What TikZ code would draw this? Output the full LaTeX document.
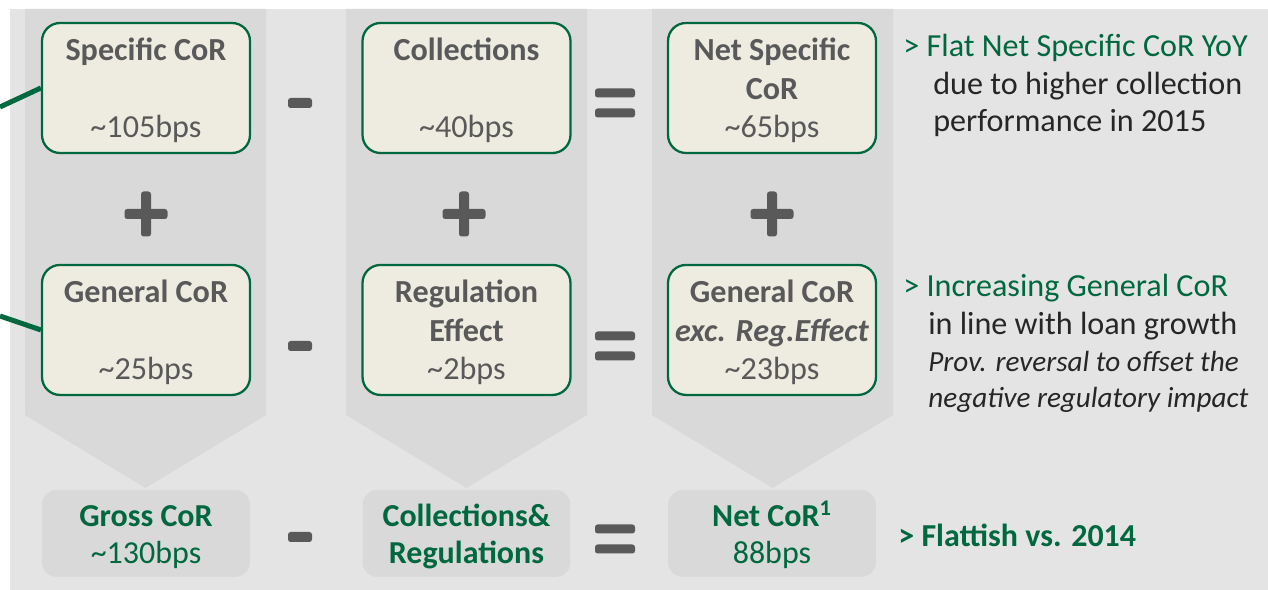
\documentclass[tikz,border=0pt]{standalone}
\usepackage{fontspec}
\setmainfont{Carlito}
\usepackage{tikz}
\usetikzlibrary{positioning}
\definecolor{corgreen}{RGB}{0,104,62}
\definecolor{boxtan}{RGB}{238,236,225}
\definecolor{colgray}{RGB}{217,217,217}
\definecolor{panelgray}{RGB}{228,228,228}
\definecolor{txtgray}{RGB}{89,89,89}
\definecolor{txtdark}{RGB}{38,38,38}
% first line of a box gets a fixed height, so all boxes sit the same way
\newcommand{\boxtitle}[1]{\rule{0pt}{15.6pt}\textbf{#1}}
\newcommand{\totaltitle}[1]{\rule{0pt}{16.2pt}\textbf{#1}}
\tikzstyle{corbox} = [rectangle, rounded corners=0.36cm,
minimum width=4.16cm,
minimum height=2.6cm,
inner sep=0pt,
align=center,
draw=corgreen, line width=1.3pt,
fill=boxtan,
text=txtgray,
font=\fontsize{18.3}{21.9}\selectfont]
\tikzstyle{totalbox} = [rectangle, rounded corners=0.3cm,
minimum width=4.16cm,
minimum height=1.74cm,
inner sep=0pt,
align=center,
fill=colgray,
text=corgreen,
font=\fontsize{18.2}{21}\selectfont]
\tikzstyle{note} = [anchor=north west, align=left, inner sep=0pt, text=txtdark,
font=\fontsize{18.3}{21.4}\selectfont]
\tikzstyle{opsign} = [fill=txtgray, rounded corners=1.5pt]
\tikzstyle{link} = [line width=0.1cm, draw=corgreen]

\begin{document}
\begin{tikzpicture}[x=0.02cm, y=-0.02cm, node distance=4.84cm]
        \useasboundingbox (0,0) rectangle (1268,590);
        \fill[panelgray] (10,9) rectangle (1268,590);
        % the three down-pointing columns
        \foreach \l/\r in {25/266, 346/587, 652/893}
            \fill[colgray] (\l,9) -- (\r,9) -- (\r,415) -- ({(\l+\r)/2},488) -- (\l,415) -- cycle;

        \node (spec) [corbox] at (146,88) {\boxtitle{Specific CoR}\\ \mbox{}\\ \textasciitilde105bps};
        \node (coll) [corbox] at (466.5,88) {\boxtitle{Collections}\\ \mbox{}\\ \textasciitilde40bps};
        \node (netspec) [corbox] at (772,88) {\boxtitle{Net Specific}\\ \textbf{CoR}\\ \textasciitilde65bps};
        \node (gen) [corbox, below of=spec] {\boxtitle{General CoR}\\ \mbox{}\\ \textasciitilde25bps};
        \node (reg) [corbox, below of=coll] {\boxtitle{Regulation}\\ \textbf{Effect}\\ \textasciitilde2bps};
        \node (genexc) [corbox, below of=netspec] {\boxtitle{General CoR}\\ \textbf{\itshape exc. Reg.Effect}\\ \textasciitilde23bps};

        \node (gross) [totalbox, below of=gen, node distance=4.07cm] {\totaltitle{Gross CoR}\\ \textasciitilde130bps};
        \node (collreg) [totalbox, below of=reg, node distance=4.07cm] {\totaltitle{Collections\&}\\ \textbf{Regulations}};
        \node (netcor) [totalbox, below of=genexc, node distance=4.07cm] {\totaltitle{Net CoR\textsuperscript{1}}\\ 88bps};

        % comments on the right
        \node (note1) [note] at (903,34) {\textcolor{corgreen}{> Flat Net Specific CoR YoY}\\
            \hspace*{0.6cm}due to higher collection\\
            \hspace*{0.6cm}performance in 2015};
        \node (note2) [note] at (903,274) {\textcolor{corgreen}{> Increasing General CoR}\\
            \hspace*{0.5cm}in line with loan growth\\
            \hspace*{0.5cm}{\fontsize{16.6}{20}\selectfont\itshape Prov. reversal to offset the}\\[-1.4pt]
            \hspace*{0.5cm}{\fontsize{16.6}{20}\selectfont\itshape negative regulatory impact}};
        \node (note3) [anchor=west, inner sep=0pt, text=corgreen, font=\fontsize{18.2}{21}\selectfont\bfseries] at (898,535) {> Flattish vs. 2014};

        % operator signs
        \foreach \x/\y in {300/103, 300/346, 300/537}
            \fill[opsign] (\x-12,\y-5) rectangle (\x+12,\y+5);
        \foreach \x/\y in {615/103, 615/346, 615/539} {
            \fill[opsign] (\x-20,\y-14.5) rectangle (\x+20,\y-5.5);
            \fill[opsign] (\x-20,\y+5.5) rectangle (\x+20,\y+14.5);
        }
        \foreach \x in {146, 464, 772} {
            \fill[opsign] (\x-21.5,209) rectangle (\x+21.5,219);
            \fill[opsign] (\x-5,191.5) rectangle (\x+5,236.5);
        }

        \coordinate (in1) at (0,107);
        \coordinate (in2) at (0,316);
        \draw [link] (in1) -- (spec.west);
        \draw [link] (in2) -- (gen.west);
    \end{tikzpicture}
\end{document}
